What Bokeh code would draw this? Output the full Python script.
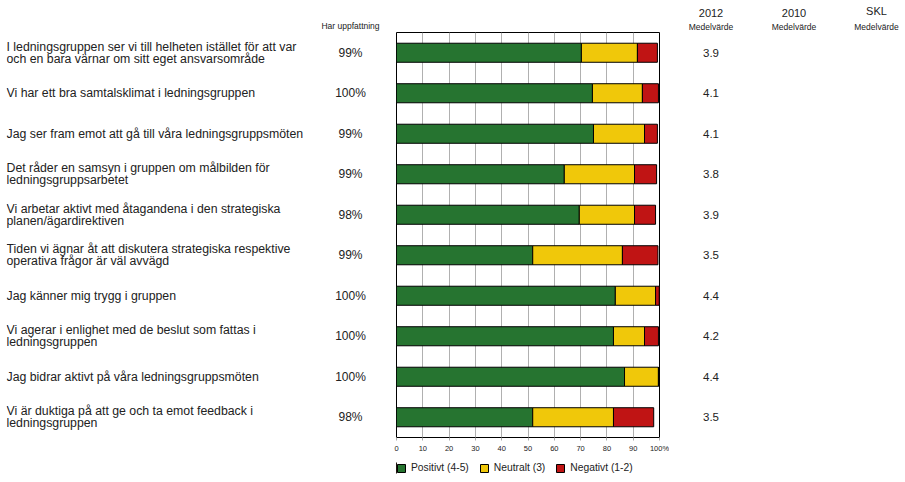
from bokeh.plotting import figure
from bokeh.models import (ColumnDataSource, FactorRange, Range1d, Legend, LegendItem,
                          FixedTicker, Title, Spacer)
from bokeh.layouts import row, column
from bokeh.core.properties import value
from bokeh.embed import file_html
from bokeh.resources import INLINE

# ---------------- data ----------------
questions = [
    "I ledningsgruppen ser vi till helheten istället för att var\noch en bara värnar om sitt eget ansvarsområde",
    "Vi har ett bra samtalsklimat i ledningsgruppen",
    "Jag ser fram emot att gå till våra ledningsgruppsmöten",
    "Det råder en samsyn i gruppen om målbilden för\nledningsgruppsarbetet",
    "Vi arbetar aktivt med åtagandena i den strategiska\nplanen/ägardirektiven",
    "Tiden vi ägnar åt att diskutera strategiska respektive\noperativa frågor är väl avvägd",
    "Jag känner mig trygg i gruppen",
    "Vi agerar i enlighet med de beslut som fattas i\nledningsgruppen",
    "Jag bidrar aktivt på våra ledningsgruppsmöten",
    "Vi är duktiga på att ge och ta emot feedback i\nledningsgruppen",
]
har_uppfattning = ["99%", "100%", "99%", "99%", "98%", "99%", "100%", "100%", "100%", "98%"]
positivt = [70.3, 74.5, 74.9, 63.8, 69.5, 51.8, 83.2, 82.5, 86.7, 51.8]
neutralt = [21.3, 19.0, 19.4, 26.7, 21.0, 34.1, 15.3, 11.8, 12.9, 30.7]
negativt = [7.6, 6.1, 4.9, 8.4, 8.0, 13.5, 1.4, 5.3, 0.0, 15.3]
medel_2012 = ["3.9", "4.1", "4.1", "3.8", "3.9", "3.5", "4.4", "4.2", "4.4", "3.5"]

mean_columns = ["2012", "2010", "SKL"]
mean_sub = "Medelvärde"
pct_header = "Har uppfattning"
legend_labels = ["Positivt (4-5)", "Neutralt (3)", "Negativt (1-2)"]
x_ticks = [0, 10, 20, 30, 40, 50, 60, 70, 80, 90, 100]
x_tick_labels = ["0", "10", "20", "30", "40", "50", "60", "70", "80", "90", "100%"]

# ---------------- style ----------------
FONT = "Liberation Sans"
TXT = "#222222"
COLORS = ["#267430", "#f0c80a", "#c01414"]
H = 455
T = 32
B = 16
STACK = ["pos", "neu", "neg"]

src = ColumnDataSource(dict(
    question=questions,
    pct=har_uppfattning,
    pos=positivt, neu=neutralt, neg=negativt,
    m2012=medel_2012,
    pcol=[pct_header] * len(questions),
    mcol=[mean_columns[0]] * len(questions),
))

yr = FactorRange(factors=list(reversed(questions)))


def base(width, x_range, left=0, right=0):
    p = figure(width=width, height=H, x_range=x_range, y_range=yr,
               output_backend="svg", toolbar_location=None,
               x_axis_location=None, y_axis_location=None,
               min_border_left=left, min_border_right=right,
               min_border_top=T, min_border_bottom=B)
    p.outline_line_color = None
    p.grid.visible = False
    return p


# question labels
fq = base(318, Range1d(0, 312), left=6)
fq.text(x=0, y="question", text="question", source=src,
        text_align="left", text_baseline="middle",
        text_font=value(FONT), text_font_size="12.3px",
        text_line_height=0.85, text_color=TXT)

# percentage column
fp = base(64, FactorRange(factors=[pct_header]))
fp.text(x="pcol", y="question", text="pct", source=src,
        text_align="center", text_baseline="middle",
        text_font=value(FONT), text_font_size="12px", text_color=TXT)
fp.add_layout(Title(text=pct_header, align="center", text_font=FONT,
                    text_font_size="8.5px", text_font_style="normal",
                    text_color=TXT, standoff=3), "above")

# bar chart
fb = figure(width=287, height=H, x_range=Range1d(0, 100), y_range=yr,
            output_backend="svg", toolbar_location=None,
            y_axis_location=None,
            min_border_left=14, min_border_right=10,
            min_border_top=T, min_border_bottom=B)
fb.outline_line_color = "black"
fb.outline_line_width = 1
fb.hbar_stack(STACK, y="question", height=0.47,
              color=COLORS, line_color="black", line_width=1, source=src)
ax = fb.xaxis[0]
ax.ticker = FixedTicker(ticks=x_ticks)
ax.major_label_overrides = dict(zip(x_ticks, x_tick_labels))
ax.major_label_text_font = FONT
ax.major_label_text_font_size = "7.5px"
ax.major_label_text_color = TXT
ax.axis_line_color = "black"
ax.major_tick_line_color = "#aaaaaa"
ax.major_tick_in = 0
ax.major_tick_out = 3
ax.minor_tick_line_color = None
ax.major_label_standoff = 3
fb.xgrid.ticker = FixedTicker(ticks=x_ticks[1:-1])
fb.xgrid.grid_line_color = "#b0b0b0"
fb.ygrid.visible = False

# legend strip under the bar chart; its stacked bars are mapped far outside its view
fl = figure(width=287, height=20, x_range=Range1d(1000, 1100), y_range=yr,
            output_backend="svg", toolbar_location=None,
            x_axis_location=None, y_axis_location=None,
            min_border_left=14, min_border_right=10,
            min_border_top=7, min_border_bottom=2)
fl.outline_line_color = None
fl.grid.visible = False
rs = fl.hbar_stack(STACK, y="question", height=0.47,
                   color=COLORS, line_color="black", line_width=1, source=src)
legend = Legend(items=[LegendItem(label=l, renderers=[r]) for l, r in zip(legend_labels, rs)],
                location="top_left", orientation="horizontal",
                padding=0, margin=0, spacing=10, label_standoff=5,
                glyph_width=10, glyph_height=10, label_height=10,
                label_text_font=FONT, label_text_font_size="10.3px",
                label_text_color=TXT, border_line_color=None,
                background_fill_alpha=0)
fl.add_layout(legend, "center")


def mean_fig(width, col, left=0):
    p = base(width, FactorRange(factors=[col]), left=left)
    p.add_layout(Title(text=mean_sub, align="center", text_font=FONT,
                       text_font_size="8.5px", text_font_style="normal",
                       text_color=TXT, standoff=2), "above")
    p.add_layout(Title(text=col, align="center", text_font=FONT,
                       text_font_size="11px", text_font_style="normal",
                       text_color=TXT, standoff=4), "above")
    return p


f12 = mean_fig(83, mean_columns[0])
f12.text(x="mcol", y="question", text="m2012", source=src,
         text_align="center", text_baseline="middle",
         text_font=value(FONT), text_font_size="11.5px", text_color=TXT)
f10 = mean_fig(83, mean_columns[1])
fskl = mean_fig(68, mean_columns[2], left=14)

layout = column(
    row(fq, fp, fb, f12, f10, fskl, spacing=0),
    row(Spacer(width=382, height=20), fl, spacing=0),
    spacing=0,
)

open("out.html", "w").write(file_html(layout, INLINE))
